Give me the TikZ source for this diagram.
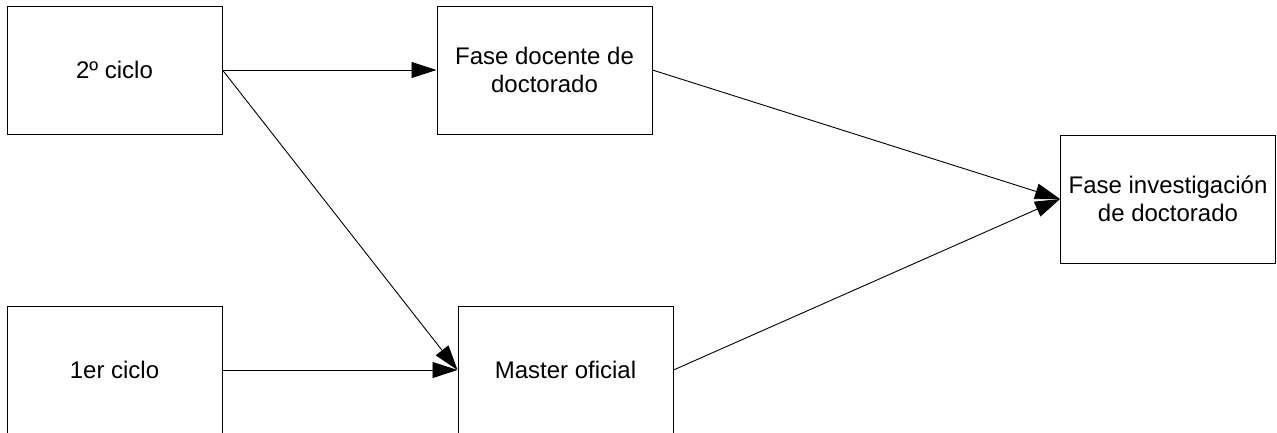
\documentclass[tikz,border=0pt]{standalone}
\usepackage{fontspec}
\setmainfont{Liberation Sans}
\usetikzlibrary{arrows.meta}
\begin{document}
\begin{tikzpicture}[x=1pt,y=-1pt,
  box/.style={draw, line width=1pt, minimum width=215pt, minimum height=128pt, inner sep=0pt, align=center,
    font=\fontsize{24}{28}\selectfont},
  conn/.style={line width=0.9pt, -{Triangle[length=25pt,width=16pt]}}]
\useasboundingbox (0,0) rectangle (1277,432);
\clip (0,0) rectangle (1277,432);
\node[box] (c2) at (114.5,70) {2º ciclo};
\node[box] (fd) at (544.5,70) {Fase docente de\\doctorado};
\node[box] (fi) at (1168,199) {Fase investigación\\de doctorado};
\node[box] (c1) at (114.5,370) {1er ciclo};
\node[box] (mo) at (565.5,370) {Master oficial};
\draw[conn] (c2.east) -- (fd.west);
\draw[conn] (c2.east) -- (mo.west);
\draw[conn] (c1.east) -- (mo.west);
\draw[conn] (fd.east) -- (fi.west);
\draw[conn] (mo.east) -- (fi.west);
\end{tikzpicture}
\end{document}
